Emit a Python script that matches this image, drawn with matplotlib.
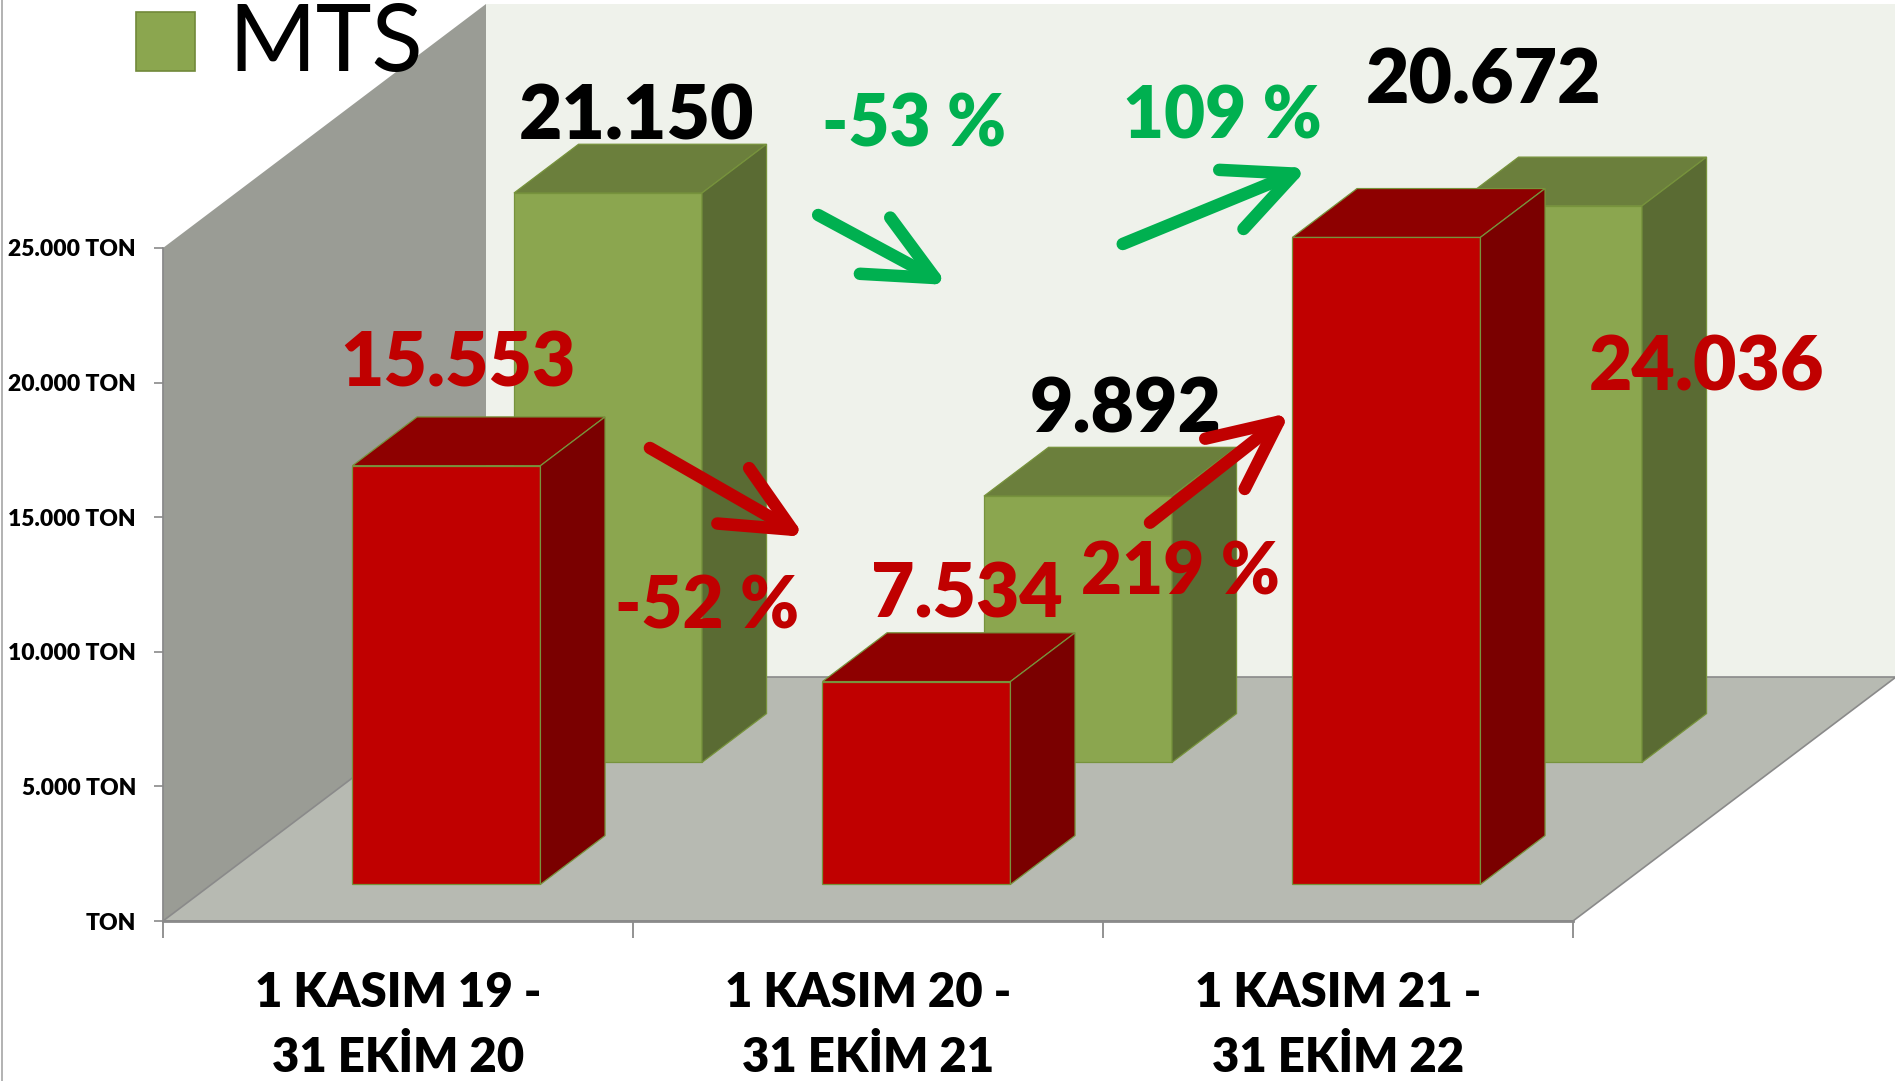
import matplotlib
matplotlib.use('Agg')
import matplotlib.pyplot as plt
from matplotlib.patches import Polygon, Rectangle
from matplotlib.lines import Line2D

plt.rcParams['font.family'] = ['Lato', 'DejaVu Sans']

# data
periods_top = ['1 KASIM 19 -', '1 KASIM 20 -', '1 KASIM 21 -']
periods_bottom = ['31 EKİM 20', '31 EKİM 21', '31 EKİM 22']
red_values = [15553, 7534, 24036]
mts_values = [21150, 9892, 20672]
red_labels = ['15.553', '7.534', '24.036']
mts_labels = ['21.150', '9.892', '20.672']
red_changes = ['-52 %', '219 %']
mts_changes = ['-53 %', '109 %']
y_ticks = [0, 5000, 10000, 15000, 20000, 25000]
y_tick_labels = ['TON', '5.000 TON', '10.000 TON', '15.000 TON', '20.000 TON', '25.000 TON']
legend_name = 'MTS'

W, H = 1895, 1081
RED = '#C00000'
GREEN_TXT = '#00B050'
GRAY = '#8A8A8A'
HEAVY = 'heavy'

fig = plt.figure(figsize=(W / 100, H / 100), dpi=100)
fig.patch.set_facecolor('white')
ax = fig.add_axes([163 / W, (H - 921) / H, 1410 / W, 673 / H])
ax.set_xlim(0, 3)
ax.set_ylim(0, 25000)
ax.patch.set_visible(False)

# oblique depth: full depth shifts 323 px right and 244 px up
DX = 323 / 470
DY = 244 / 673 * 25000
YMAX = y_ticks[-1]


def proj(x, d, y):
    return (x + d * DX, y + d * DY)


def poly(pts, fc, ec='none', lw=0, z=1):
    ax.add_patch(Polygon(pts, closed=True, facecolor=fc, edgecolor=ec,
                         linewidth=lw, zorder=z, clip_on=False))


# walls and floor
poly([proj(0, 1, 0), proj(3, 1, 0), proj(3, 1, YMAX), proj(0, 1, YMAX)], '#EFF2EB', z=1)
poly([proj(0, 0, 0), proj(0, 1, 0), proj(0, 1, YMAX), proj(0, 0, YMAX)], '#9A9C95', z=1)
poly([proj(0, 0, 0), proj(3, 0, 0), proj(3, 1, 0), proj(0, 1, 0)], '#B7BAB2', GRAY, 1.2, z=1)


def bar3d(i, d0, d1, h, front, top, side, z):
    x0, x1 = i + 0.3, i + 0.7
    ec, lw = '#77933C', 0.9
    poly([proj(x0, d0, 0), proj(x1, d0, 0), proj(x1, d0, h), proj(x0, d0, h)], front, ec, lw, z)
    poly([proj(x0, d0, h), proj(x1, d0, h), proj(x1, d1, h), proj(x0, d1, h)], top, ec, lw, z)
    poly([proj(x1, d0, 0), proj(x1, d1, 0), proj(x1, d1, h), proj(x1, d0, h)], side, ec, lw, z)


for i, v in enumerate(mts_values):
    bar3d(i, 0.65, 0.85, v, '#8BA64F', '#6B7F3C', '#5A6B33', 3)
for i, v in enumerate(red_values):
    bar3d(i, 0.15, 0.35, v, RED, '#8E0000', '#7A0000', 4)

# axes
for s in ['top', 'right']:
    ax.spines[s].set_visible(False)
ax.spines['left'].set_color(GRAY)
ax.spines['left'].set_linewidth(1.3)
ax.spines['bottom'].set_color(GRAY)
ax.spines['bottom'].set_linewidth(2)
ax.spines['left'].set_zorder(2)
ax.spines['bottom'].set_zorder(2)
ax.set_yticks(y_ticks)
ax.set_yticklabels(y_tick_labels, fontsize=16.5, fontweight=HEAVY)
ax.tick_params(axis='y', length=6.5, width=1.2, color=GRAY, pad=13)
ax.set_xticks([0, 1, 2, 3])
ax.set_xticklabels([])
ax.tick_params(axis='x', length=12, width=1.3, color=GRAY)

for i in range(3):
    ax.text(i + 0.5, -3206, periods_top[i], ha='center', va='baseline',
            fontsize=34, fontweight=HEAVY, clip_on=False)
    ax.text(i + 0.5, -5598, periods_bottom[i], ha='center', va='baseline',
            fontsize=34, fontweight=HEAVY, clip_on=False)

# value labels
mts_pos = [(1.008, 29012), (2.049, 18139), (2.809, 30386)]
red_pos = [(0.628, 19848), (1.711, 11256), (3.285, 19725)]
for (x, y), s in zip(mts_pos, mts_labels):
    ax.text(x, y, s, ha='center', va='baseline', fontsize=54,
            fontweight=HEAVY, color='black', zorder=6, clip_on=False)
for (x, y), s in zip(red_pos, red_labels):
    ax.text(x, y, s, ha='center', va='baseline', fontsize=54,
            fontweight=HEAVY, color=RED, zorder=6, clip_on=False)

# change labels and arrows
mts_change_pos = [(1.598, 28763), (2.253, 29086)]
red_change_pos = [(1.157, 10884), (2.164, 12110)]
for (x, y), s in zip(mts_change_pos, mts_changes):
    ax.text(x, y, s, ha='center', va='baseline', fontsize=51,
            fontweight=HEAVY, color=GREEN_TXT, zorder=6, clip_on=False)
for (x, y), s in zip(red_change_pos, red_changes):
    ax.text(x, y, s, ha='center', va='baseline', fontsize=51,
            fontweight=HEAVY, color=RED, zorder=6, clip_on=False)

arrows = [
    ((1.394, 26226), (1.670, 23626), GREEN_TXT),
    ((2.042, 25149), (2.436, 27972), GREEN_TXT),
    ((1.036, 17571), (1.366, 14264), RED),
    ((2.100, 14796), (2.398, 18882), RED),
]
for tail, tip, c in arrows:
    ax.annotate('', xy=tip, xytext=tail, annotation_clip=False, zorder=7,
                arrowprops=dict(arrowstyle='->,head_length=4.9,head_width=2.3',
                                mutation_scale=10, lw=9, color=c,
                                shrinkA=0, shrinkB=0))

# legend (only the MTS entry is visible)
fig.add_artist(Rectangle((135.5 / W, (H - 71) / H), 59.5 / W, 59 / H,
                         facecolor='#8BA64F', edgecolor='#71893A', lw=1.2,
                         transform=fig.transFigure))
fig.text(228 / W, (H - 71.5) / H, legend_name, fontsize=68, va='baseline', ha='left')

# slide border
fig.add_artist(Line2D([1.5 / W, 1.5 / W], [0, 1], color='#A6A6A6', lw=1.2,
                      transform=fig.transFigure))

fig.savefig('out.png', dpi=100)
